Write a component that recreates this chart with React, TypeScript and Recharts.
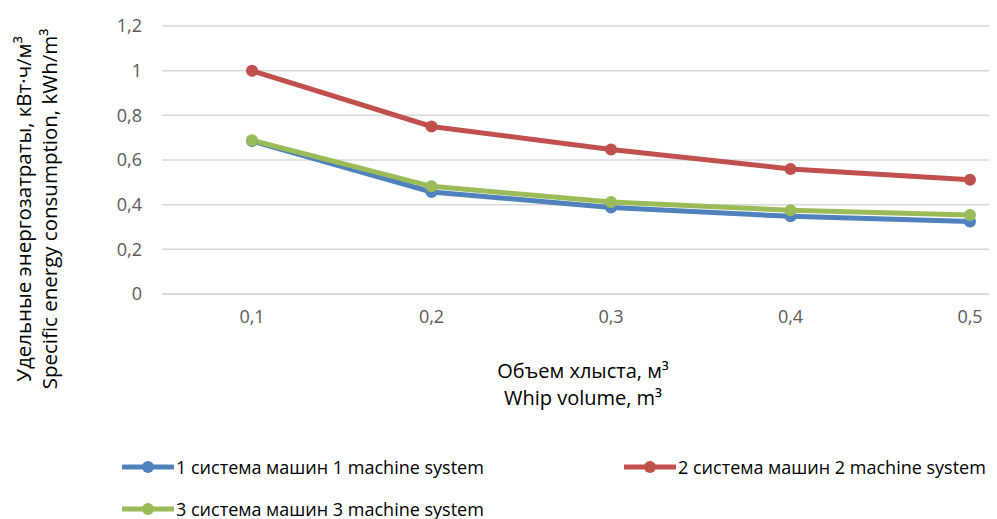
import React from "react";
import {
  LineChart,
  Line,
  XAxis,
  YAxis,
  CartesianGrid,
  Label,
} from "recharts";

const volumes = ["0,1", "0,2", "0,3", "0,4", "0,5"];
const system1 = [0.685, 0.457, 0.387, 0.348, 0.325];
const system2 = [1.0, 0.75, 0.647, 0.56, 0.512];
const system3 = [0.688, 0.482, 0.412, 0.375, 0.354];
const yTicks = [0, 0.2, 0.4, 0.6, 0.8, 1, 1.2];

const seriesNames = [
  "1 система машин 1 machine system",
  "2 система машин 2 machine system",
  "3 система машин 3 machine system",
];

const COLORS = ["#4f81bd", "#c0504d", "#9bbb59"];
const FONT = "'Open Sans', 'Noto Sans', sans-serif";

const data = volumes.map((v, i) => ({
  volume: v,
  s1: system1[i],
  s2: system2[i],
  s3: system3[i],
}));

function fmt(v: number) {
  return String(v).replace(".", ",");
}

function YTitle() {
  return (
    <g fontFamily={FONT} fontSize={20.5} fill="#000">
      <text
        x={15}
        y={201}
        textAnchor="middle"
        dominantBaseline="central"
        transform="rotate(-90 15 201)"
      >
        Удельные энергозатраты, кВт·ч/м³
      </text>
      <text
        x={41}
        y={201}
        textAnchor="middle"
        dominantBaseline="central"
        transform="rotate(-90 41 201)"
      >
        Specific energy consumption, kWh/m³
      </text>
    </g>
  );
}

function XTitle() {
  return (
    <g fontFamily={FONT} fontSize={20} fill="#000">
      <text x={575} y={362} textAnchor="middle" dominantBaseline="central">
        Объем хлыста, м³
      </text>
      <text x={575} y={389} textAnchor="middle" dominantBaseline="central">
        Whip volume, m³
      </text>
    </g>
  );
}

// legend item centres, relative to the chart box
const legendPos = [
  { left: 114, top: 459 },
  { left: 616, top: 459 },
  { left: 114, top: 501 },
];

function ChartLegend() {
  return (
    <>
      {seriesNames.map((name, i) => (
        <div
          key={name}
          style={{
            position: "absolute",
            left: legendPos[i].left,
            top: legendPos[i].top - 14,
            height: 28,
            display: "flex",
            alignItems: "center",
            fontFamily: FONT,
            fontSize: 18,
            color: "#000",
            whiteSpace: "nowrap",
          }}
        >
          <svg width={52} height={16} style={{ marginRight: 2 }}>
            <line
              x1={1}
              y1={8}
              x2={51}
              y2={8}
              stroke={COLORS[i]}
              strokeWidth={5}
              strokeLinecap="round"
            />
            <circle cx={26} cy={8} r={6} fill={COLORS[i]} />
          </svg>
          {name}
        </div>
      ))}
    </>
  );
}

export default function App() {
  const keys = ["s1", "s2", "s3"];
  return (
    <div style={{ width: 989, height: 511, overflow: "hidden", position: "relative" }}>
      <LineChart
        width={989}
        height={511}
        data={data}
        margin={{ top: 18, right: 0, bottom: 185, left: 0 }}
      >
        <CartesianGrid vertical={false} stroke="#d9d9d9" strokeWidth={1.5} />
        <XAxis
          dataKey="volume"
          padding={{ left: 90, right: 27 }}
          height={40}
          axisLine={{ stroke: "#d9d9d9", strokeWidth: 1.5 }}
          tickLine={false}
          tickSize={0}
          tickMargin={16}
          tick={{ fill: "#595959", fontSize: 18, fontFamily: FONT }}
        >
          <Label content={<XTitle />} />
        </XAxis>
        <YAxis
          width={154}
          domain={[0, 1.2]}
          ticks={yTicks}
          tickFormatter={fmt}
          axisLine={false}
          tickLine={false}
          tickSize={0}
          tickMargin={20}
          tick={{ fill: "#595959", fontSize: 18, fontFamily: FONT }}
        >
          <Label content={<YTitle />} />
        </YAxis>
        {keys.map((k, i) => (
          <Line
            key={k}
            type="linear"
            dataKey={k}
            name={seriesNames[i]}
            stroke={COLORS[i]}
            strokeWidth={5}
            dot={{ r: 6, fill: COLORS[i], stroke: COLORS[i], strokeWidth: 0 }}
            activeDot={false}
            isAnimationActive={false}
          />
        ))}
      </LineChart>
      <ChartLegend />
    </div>
  );
}
